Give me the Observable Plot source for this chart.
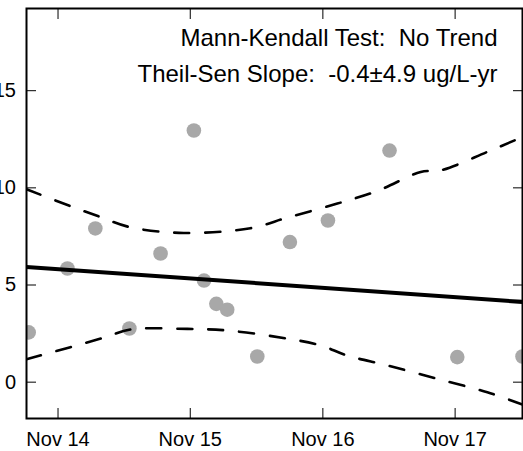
<!DOCTYPE html>
<html>
<head>
<meta charset="utf-8">
<script src="https://cdn.jsdelivr.net/npm/d3@7"></script>
<script src="https://cdn.jsdelivr.net/npm/@observablehq/plot@0.6"></script>
<style>
  html, body { margin: 0; padding: 0; background: white; overflow: hidden; }
  #chart { width: 523px; height: 451px; }
</style>
</head>
<body>
<div id="chart"></div>
<script>
// Sample dates and concentrations (ug/L)
const sampleDates = ["2014-08-12","2014-11-27","2015-02-12","2015-05-17","2015-08-11","2015-11-11","2015-12-09","2016-01-12","2016-02-11","2016-05-04","2016-08-02","2016-11-15","2017-05-04","2017-11-07","2018-05-06"];
const sampleValues = [2.56, 5.85, 7.91, 2.76, 6.62, 12.95, 5.23, 4.03, 3.73, 1.32, 7.21, 8.32, 11.92, 1.29, 1.32];

// Theil-Sen trend line
const trendDates = ["2014-08-06", "2018-05-06"];
const trendValues = [5.93, 4.13];

// Upper confidence band (dashed)
const upperDates = ["2014-08-06","2014-12-05","2015-02-26","2015-05-20","2015-10-14","2016-04-15","2016-07-26","2016-12-11","2017-04-04","2017-07-29","2017-09-22","2018-01-29","2018-05-06"];
const upperValues = [9.93, 9.06, 8.50, 7.97, 7.68, 7.92, 8.47, 9.19, 9.87, 10.82, 10.90, 11.85, 12.62];

// Lower confidence band (dashed)
const lowerDates = ["2014-08-06","2014-12-05","2015-03-06","2015-05-20","2015-10-24","2016-02-11","2016-07-26","2016-10-26","2017-01-07","2017-04-28","2017-09-13","2018-01-29","2018-05-06"];
const lowerValues = [1.18, 1.80, 2.28, 2.71, 2.74, 2.66, 2.24, 1.89, 1.37, 0.86, 0.17, -0.52, -1.15];

// Axis ticks
const xTickDates = ["2014-11-01","2015-11-01","2016-11-01","2017-11-01"];
const yTickValues = [0, 5, 10, 15];
const xDomain = ["2014-08-06", "2018-05-06"];
const yDomain = [-1.87, 19.23];

const annotationLines = ["Mann-Kendall Test:  No Trend", "Theil-Sen Slope:  -0.4\u00b14.9 ug/L-yr"];

const parse = s => new Date(s + "T00:00:00Z");
const points = sampleDates.map((d, i) => ({date: parse(d), value: sampleValues[i]}));
const trend = trendDates.map((d, i) => ({date: parse(d), value: trendValues[i]}));
const upper = upperDates.map((d, i) => ({date: parse(d), value: upperValues[i]}));
const lower = lowerDates.map((d, i) => ({date: parse(d), value: lowerValues[i]}));
const xTicks = xTickDates.map(parse);
const fmt = d3.utcFormat("%b %y");
const blank = () => "";

const chart = Plot.plot({
  width: 523,
  height: 451,
  marginLeft: 26,
  marginRight: 1,
  marginTop: 8,
  marginBottom: 33,
  style: {fontFamily: "'Liberation Sans', Arial, sans-serif", background: "white", color: "black"},
  x: {type: "utc", domain: xDomain.map(parse)},
  y: {domain: yDomain},
  marks: [
    Plot.dot(points, {x: "date", y: "value", r: 7.3, fill: "#a8a8a8", stroke: "none", clip: true}),
    Plot.line(upper, {x: "date", y: "value", stroke: "black", strokeWidth: 2.6, strokeDasharray: "15,16", curve: "catmull-rom", clip: true}),
    Plot.line(lower, {x: "date", y: "value", stroke: "black", strokeWidth: 2.6, strokeDasharray: "15,16", curve: "catmull-rom", clip: true}),
    Plot.line(trend, {x: "date", y: "value", stroke: "black", strokeWidth: 4, clip: true}),
    Plot.axisX(xTicks, {anchor: "bottom", tickSize: 0, tickPadding: 13, fontSize: 20, tickFormat: fmt, label: null}),
    Plot.axisX(xTicks, {anchor: "bottom", tickSize: -10, tickFormat: blank, label: null}),
    Plot.axisX(xTicks, {anchor: "top", tickSize: -10, tickFormat: blank, label: null}),
    Plot.axisY(yTickValues, {anchor: "left", tickSize: 0, tickPadding: 10.5, fontSize: 20, label: null}),
    Plot.axisY(yTickValues, {anchor: "left", tickSize: -10, tickFormat: blank, label: null}),
    Plot.axisY(yTickValues, {anchor: "right", tickSize: -10, tickFormat: blank, label: null}),
    Plot.frame({stroke: "black", strokeWidth: 2}),
    Plot.text([annotationLines[0]], {frameAnchor: "top-right", textAnchor: "end", lineAnchor: "middle", dx: -25, dy: 29.5, fontSize: 24, fill: "black"}),
    Plot.text([annotationLines[1]], {frameAnchor: "top-right", textAnchor: "end", lineAnchor: "middle", dx: -25, dy: 66.2, fontSize: 24, fill: "black"})
  ]
});
document.getElementById("chart").appendChild(chart);
</script>
</body>
</html>
